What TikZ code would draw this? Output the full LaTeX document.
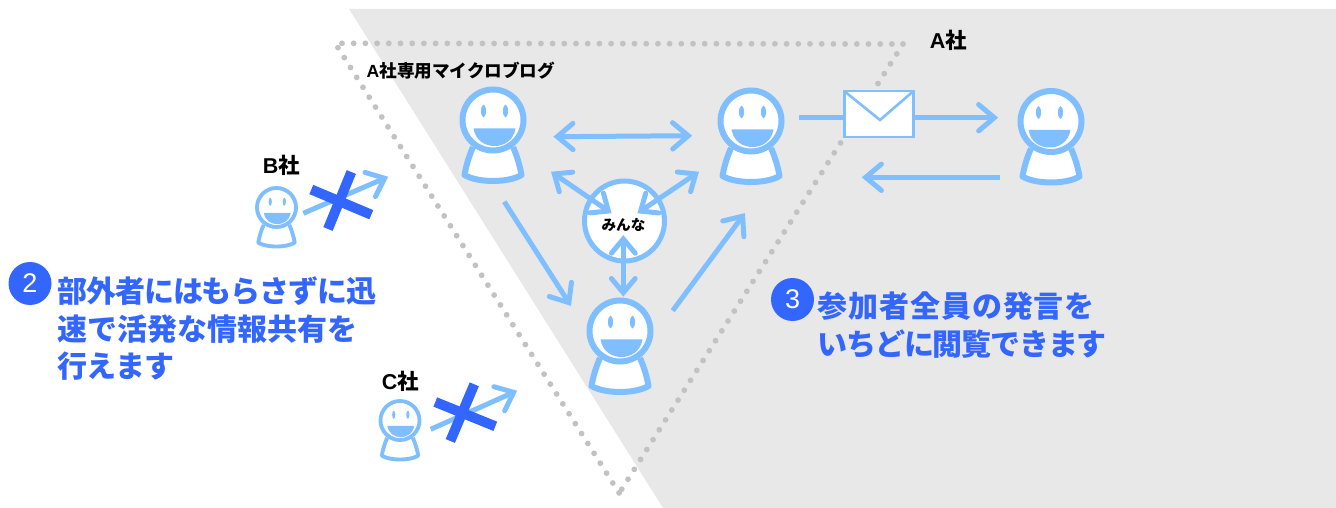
\documentclass[tikz,border=0pt]{standalone}
\usepackage{fontspec}
\usetikzlibrary{calc}
\setmainfont{Liberation Sans}
\newfontfamily\jpf{Noto Sans CJK JP}
\newfontfamily\latf{Liberation Sans}
\definecolor{lineblue}{HTML}{80BFFF}
\definecolor{deepblue}{HTML}{3366FF}
\definecolor{panelgrey}{HTML}{E8E8E9}
\definecolor{dotgrey}{HTML}{C2C2C2}
\tikzset{
  conn/.style={draw=lineblue,line width=5pt},
  headline/.style={draw=lineblue,line width=5pt,line cap=round,line join=miter},
  dotline/.style={draw=dotgrey,line width=5.8pt,line cap=round,dash pattern=on 0pt off 11.7pt},
  crossbar/.style={draw=deepblue,line width=10pt},
  blacklabel/.style={inner sep=0pt,text=black,font=\jpf\bfseries},
  bluetext/.style={inner sep=0pt,text=deepblue,align=left,anchor=north west,font=\jpf\bfseries\fontsize{30}{37.6}\selectfont},
  badge/.style={circle,fill=deepblue,minimum size=43pt,inner sep=0pt,text=white,font=\latf\fontsize{27}{27}\selectfont},
}
% name, x, y, scale, eye offset
\newcommand\figperson[5]{%
  \pgfmathsetmacro\lwa{6*#4}%
  \pgfmathsetmacro\dia{61*#4}%
  \begin{scope}[shift={(#2,#3)},x=#4pt,y=-#4pt]
    \draw[draw=lineblue,fill=white,line width=\lwa pt,line join=round]
      (-20,27) .. controls (-24,36) and (-27,46) .. (-28.5,55)
      .. controls (-15,63) and (15,63) .. (28.5,55)
      .. controls (27,46) and (24,36) .. (20,27);
    \node[circle,draw=lineblue,fill=white,line width=\lwa pt,minimum size=\dia pt,inner sep=0pt,outer sep=0pt] (#1) at (0,0) {};
    \fill[lineblue] (#5-11,-9) ellipse [x radius=2.5, y radius=6.3];
    \fill[lineblue] (#5+11,-9) ellipse [x radius=2.5, y radius=6.3];
    \fill[lineblue] (#5-21,8.3) -- (#5+21,8.3) .. controls (#5+19,21) and (#5+9,26) .. (#5,26)
      .. controls (#5-9,26) and (#5-19,21) .. (#5-21,8.3) -- cycle;
  \end{scope}}
% tip, other end, arm length
\newcommand\headat[3]{%
  \coordinate (hv) at ($(#1)!4pt!(#2)$);
  \draw[headline] ($(hv)!#3!40:(#2)$) -- (hv) -- ($(hv)!#3!-40:(#2)$);}
% one-way connector
\newcommand\oneway[3][20.5pt]{%
  \draw[conn] (#2) -- ($(#3)!4pt!(#2)$);
  \headat{#3}{#2}{#1}}
% two-way connector
\newcommand\twoway[3][18.5pt]{%
  \draw[conn] ($(#2)!4pt!(#3)$) -- ($(#3)!4pt!(#2)$);
  \headat{#2}{#3}{#1}
  \headat{#3}{#2}{#1}}
\begin{document}
\begin{tikzpicture}[x=1pt,y=-1pt]
\useasboundingbox (0,0) rectangle (1336,508);
\fill[panelgrey] (349,9) -- (1336,9) -- (1336,508) -- (663,508) -- cycle;
% dotted boundary
\draw[dotline] (342,43.3) -- (903,44);
\draw[dotline] (903,44) -- (621.7,489.3);
\draw[dotline] (338,47.7) -- (619.3,493.3);
% people
\figperson{pa}{493}{120}{1}{1.5}
\figperson{pb}{751}{121}{1}{1.5}
\figperson{pc}{1051}{121.5}{1}{-1.5}
\figperson{pd}{620}{331}{1}{1.5}
\figperson{pe}{276.5}{207.5}{0.64}{1.2}
\figperson{pf}{400}{420.5}{0.64}{1.2}
% everyone circle
\node[circle,draw=lineblue,fill=white,line width=5pt,minimum size=80pt,inner sep=0pt,outer sep=0pt] (all) at (624.5,221) {};
\node[blacklabel,font=\jpf\bfseries\fontsize{14.6}{14.6}\selectfont] (alltext) at (623.5,225.5) {みんな};
% connector ends
\coordinate (abl) at (553.3,136.7);
\coordinate (abr) at (692.3,135.7);
\coordinate (aao) at (551,171.7);
\coordinate (aai) at (611.7,213.3);
\coordinate (abo) at (699,171.7);
\coordinate (abi) at (637.3,213.3);
\coordinate (adt) at (623.3,235);
\coordinate (adb) at (623.3,296.7);
\coordinate (das) at (504.3,201.7);
\coordinate (dat) at (571,306);
\coordinate (dbs) at (672.7,310.7);
\coordinate (dbt) at (745,213);
\coordinate (bcs) at (799.3,117.7);
\coordinate (bct) at (998.3,117.7);
\coordinate (cbs) at (1000,177.3);
\coordinate (cbt) at (861.7,177.3);
\coordinate (ees) at (303.3,213.3);
\coordinate (eet) at (388.3,176.7);
\coordinate (ffs) at (430.7,429.3);
\coordinate (fft) at (517.3,390.7);
\twoway[20.5pt]{abl}{abr}
\twoway{aao}{aai}
\twoway{abo}{abi}
\twoway{adt}{adb}
\oneway{das}{dat}
\oneway{dbs}{dbt}
\oneway{bcs}{bct}
\oneway{cbs}{cbt}
\oneway{ees}{eet}
\oneway{ffs}{fft}
% envelope
\node[draw=lineblue,fill=white,line width=2.6pt,minimum width=69pt,minimum height=46pt,inner sep=0pt,outer sep=0pt] (mail) at (878.8,114.2) {};
\draw[draw=lineblue,line width=2.6pt] (mail.north west) -- (880,120) -- (mail.north east);
% crosses
\draw[crossbar] (311.3,189.5) -- (371.3,214.7);
\draw[crossbar] (351.3,172) -- (328,229);
\draw[crossbar] (435.3,402) -- (495.3,426.3);
\draw[crossbar] (474.3,384.3) -- (450.3,441);
% labels
\node[blacklabel,font=\jpf\bfseries\fontsize{17.6}{17.6}\selectfont,anchor=west] (lmb) at (366.5,71) {{\latf\bfseries A}社専用マイクロブログ};
\node[blacklabel,font=\jpf\bfseries\fontsize{21.5}{21.5}\selectfont] (la) at (948.5,40) {{\latf\bfseries A}社};
\node[blacklabel,font=\jpf\bfseries\fontsize{21.5}{21.5}\selectfont] (lb) at (281.5,165.5) {{\latf\bfseries B}社};
\node[blacklabel,font=\jpf\bfseries\fontsize{21.5}{21.5}\selectfont] (lc) at (400.5,381.5) {{\latf\bfseries C}社};
\node[badge] (b2) at (30,283.5) {2};
\node[badge] (b3) at (792.5,299.5) {3};
\node[bluetext] (t2) at (57,276.5) {{\addfontfeature{LetterSpace=-3.5}部外者にはもらさずに迅}\\速で活発な情報共有を\\{\addfontfeature{LetterSpace=-3}行えます}};
\node[bluetext] (t3) at (817.5,291.5) {{\addfontfeature{LetterSpace=3}参加者全員の発言を}\\{\addfontfeature{LetterSpace=-4}いちどに閲覧できます}};
\end{tikzpicture}
\end{document}
